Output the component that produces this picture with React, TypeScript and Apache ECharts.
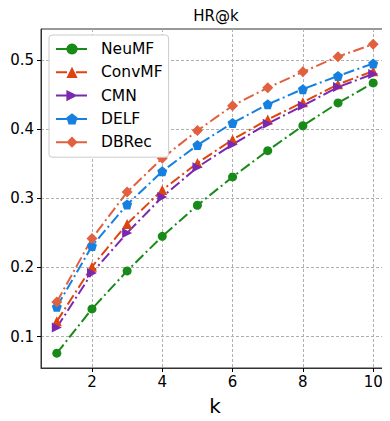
import React, { useEffect, useRef } from "react";
import * as echarts from "echarts";

const kValues = [1, 2, 3, 4, 5, 6, 7, 8, 9, 10];
const neuMF = [0.076, 0.140, 0.195, 0.245, 0.290, 0.331, 0.369, 0.405, 0.438, 0.467];
const convMF = [0.122, 0.201, 0.263, 0.312, 0.351, 0.385, 0.414, 0.439, 0.465, 0.484];
const cmn = [0.113, 0.192, 0.250, 0.302, 0.345, 0.378, 0.408, 0.434, 0.461, 0.480];
const delf = [0.143, 0.231, 0.291, 0.339, 0.377, 0.409, 0.436, 0.458, 0.477, 0.495];
const dbRec = [0.150, 0.242, 0.309, 0.358, 0.398, 0.434, 0.460, 0.483, 0.505, 0.523];
const xTicks = [2, 4, 6, 8, 10];
const yTicks = [0.1, 0.2, 0.3, 0.4, 0.5];

const FONT = "DejaVu Sans";
const PENTAGON =
  "path://M0,-1 L0.951,-0.309 L0.588,0.809 L-0.588,0.809 L-0.951,-0.309 Z";

export default function App() {
  const ref = useRef<HTMLDivElement>(null);
  useEffect(() => {
    const chart = echarts.init(ref.current!, null, { renderer: "svg" });
    const dash = [11, 3.5, 2, 3.5];
    const mk = (name: string, data: number[], color: string, symbol: string, size: number, rotate = 0) => ({
      name,
      type: "line",
      data: kValues.map((k, i) => [k, data[i]]),
      symbol,
      symbolSize: size,
      symbolRotate: rotate,
      showSymbol: true,
      itemStyle: { color },
      lineStyle: { color, width: 2, type: dash },
      emphasis: { disabled: true },
    });
    chart.setOption({
      animation: false,
      graphic: [
        {
          type: "text",
          x: 216,
          y: 23,
          style: {
            text: "HR@k",
            fontFamily: FONT,
            fontSize: 15,
            fill: "#000",
            align: "center",
            verticalAlign: "bottom",
          },
        },
      ],
      legend: {
        orient: "vertical",
        left: 49,
        top: 35,
        padding: [6, 6, 7, 6],
        itemGap: 7.3,
        itemWidth: 32,
        itemHeight: 14,
        backgroundColor: "#fff",
        borderColor: "#ccc",
        borderWidth: 1,
        borderRadius: 3,
        textStyle: { fontFamily: FONT, fontSize: 15.5, color: "#000", padding: [0, 0, 0, 8] },
        data: ["NeuMF", "ConvMF", "CMN", "DELF", "DBRec"],
      },
      grid: {
        left: 41,
        right: 1,
        top: 29,
        bottom: 47,
        show: true,
        borderColor: "#333",
        borderWidth: 1,
      },
      xAxis: {
        type: "value",
        min: 0.55,
        max: 10.45,
        name: "k",
        nameLocation: "middle",
        nameGap: 28,
        nameTextStyle: { fontFamily: FONT, fontSize: 20, color: "#000" },
        axisLine: { lineStyle: { color: "#333" } },
        axisTick: { show: true, length: 4, customValues: xTicks, lineStyle: { color: "#000" } },
        axisLabel: { customValues: xTicks, fontFamily: FONT, fontSize: 15, color: "#000", margin: 6 },
        splitLine: { show: true, lineStyle: { color: "#b0b0b0", type: [3, 2] } },
      },
      yAxis: {
        type: "value",
        min: 0.0545,
        max: 0.545,
        axisLine: { show: true, lineStyle: { color: "#333" } },
        axisTick: { show: true, length: 4, customValues: yTicks, lineStyle: { color: "#000" } },
        axisLabel: {
          customValues: yTicks,
          fontFamily: FONT,
          fontSize: 15,
          color: "#000",
          margin: 7,
          formatter: (v: number) => v.toFixed(1),
        },
        splitLine: { show: true, lineStyle: { color: "#b0b0b0", type: [3, 2] } },
      },
      series: [
        mk("NeuMF", neuMF, "#178a17", "circle", 9),
        mk("ConvMF", convMF, "#e0440e", "triangle", 10),
        mk("CMN", cmn, "#7b28b0", "triangle", 10, -90),
        mk("DELF", delf, "#1680e0", PENTAGON, 10),
        mk("DBRec", dbRec, "#e0603f", "diamond", 11),
      ],
    });
    return () => chart.dispose();
  }, []);
  return <div ref={ref} style={{ width: 390, height: 421, margin: -8 }} />;
}
